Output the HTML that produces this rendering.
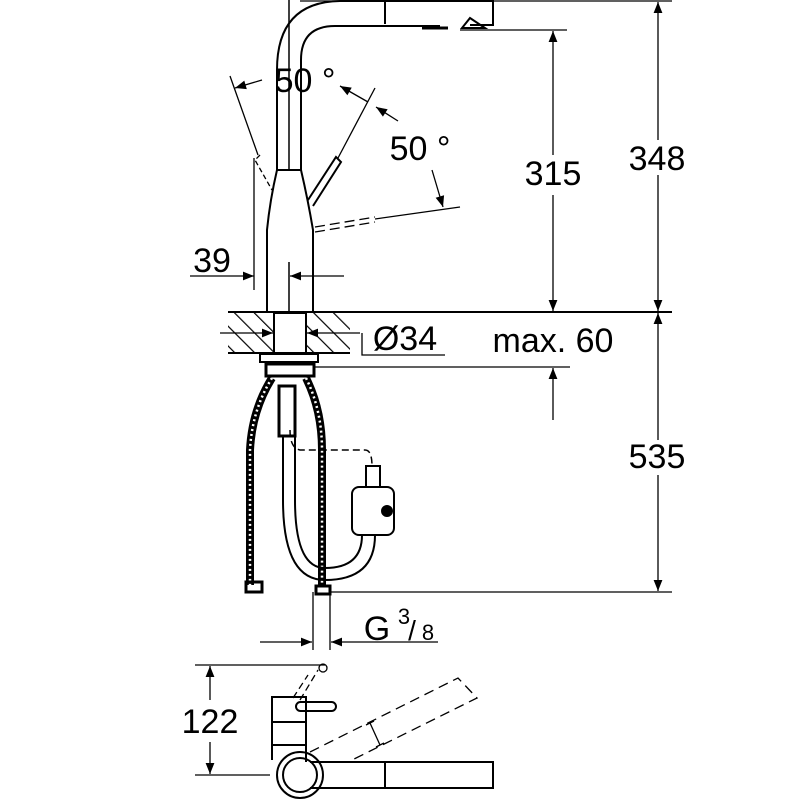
<!DOCTYPE html>
<html><head><style>html,body{margin:0;padding:0;background:#fff}svg{display:block}</style></head>
<body>
<svg width="800" height="800" viewBox="0 0 800 800" xmlns="http://www.w3.org/2000/svg" font-family="Liberation Sans, sans-serif">
<defs>
<marker id="a" viewBox="0 0 10 10" refX="10" refY="5" markerWidth="22" markerHeight="11" markerUnits="userSpaceOnUse" orient="auto-start-reverse"><path d="M0,1 L10,5 L0,9 z" fill="#000"/></marker>
<pattern id="h" width="14" height="14" patternUnits="userSpaceOnUse" patternTransform="rotate(-45)"><line x1="0" y1="0" x2="0" y2="14" stroke="#000" stroke-width="2.4"/></pattern>
</defs>
<g fill="none" stroke="#000" stroke-width="2">
<path d="M277,170 L277,70 Q277,2 340,1 L493,1 L493,25 L470,25"/>
<path d="M301,170 L301,60 Q301,26 335,26 L440,26"/>
<line x1="385" y1="1" x2="385" y2="24"/>
<path d="M462,28 L470,18 L485,28 Z"/>
<path d="M422,28 L448,28" stroke-width="3"/>
<line x1="289" y1="0" x2="289" y2="170" stroke-width="1.5"/>
<path d="M277,170 Q270,200 267,230 L267,312"/>
<path d="M301,170 Q308,200 313,230 L313,312"/>
<line x1="277" y1="170" x2="301" y2="170"/>
<line x1="289" y1="262" x2="289" y2="312" stroke-width="1.5"/>
<path d="M308,200 L336,157 L341,162 L313,206"/>
<line x1="338" y1="158" x2="375" y2="88" stroke-width="1.3"/>
<path d="M260,155 L255,160 L272,190" stroke-width="1.3" stroke-dasharray="5,3"/>
<line x1="258" y1="155" x2="230" y2="76" stroke-width="1.3"/>
<path d="M315,232 L375,222 M315,227 L375,217" stroke-width="1.3" stroke-dasharray="10,5"/>
<line x1="375" y1="219" x2="460" y2="207" stroke-width="1.3"/>
<line x1="254" y1="158" x2="254" y2="290" stroke-width="1.3"/>
</g>
<g stroke="#000" stroke-width="1.3" fill="none">
<line x1="262" y1="80" x2="235" y2="88" marker-end="url(#a)"/>
<line x1="340" y1="86" x2="368" y2="102" marker-start="url(#a)"/>
<line x1="376" y1="107" x2="398" y2="121" marker-start="url(#a)"/>
<line x1="432" y1="170" x2="443" y2="207" marker-end="url(#a)"/>
<line x1="190" y1="276" x2="254" y2="276" marker-end="url(#a)"/>
<line x1="344" y1="276" x2="290" y2="276" marker-end="url(#a)"/>
<rect x="228" y="313" width="122" height="40" fill="url(#h)" stroke="none"/>
<rect x="274" y="313" width="32" height="40" fill="#fff" stroke="#000" stroke-width="2"/>
<line x1="228" y1="312" x2="672" y2="312" stroke-width="2"/>
<line x1="228" y1="353" x2="350" y2="353" stroke-width="2"/>
<line x1="220" y1="333" x2="273" y2="333" marker-end="url(#a)"/>
<line x1="360" y1="333" x2="307" y2="333" marker-end="url(#a)"/>
<path d="M362,333 L362,355 L445,355"/>
<line x1="300" y1="1" x2="672" y2="1"/>
<line x1="460" y1="30" x2="567" y2="30"/>
<line x1="553" y1="155" x2="553" y2="31" marker-end="url(#a)"/>
<line x1="553" y1="195" x2="553" y2="311" marker-end="url(#a)"/>
<line x1="658" y1="140" x2="658" y2="2" marker-end="url(#a)"/>
<line x1="658" y1="175" x2="658" y2="311" marker-end="url(#a)"/>
<line x1="658" y1="440" x2="658" y2="313" marker-end="url(#a)"/>
<line x1="658" y1="475" x2="658" y2="591" marker-end="url(#a)"/>
<line x1="315" y1="367" x2="570" y2="367"/>
<line x1="553" y1="420" x2="553" y2="368" marker-end="url(#a)"/>
<line x1="330" y1="592" x2="672" y2="592"/>
</g>
<g stroke="#000" stroke-width="2" fill="none">
<rect x="260" y="354" width="58" height="8"/>
<rect x="266" y="364" width="48" height="12" stroke-width="3"/>
<path d="M272,378 Q252,410 250,450 L250,585" stroke-width="8"/>
<path d="M272,378 Q252,410 250,450 L250,585" stroke="#fff" stroke-width="2.5" stroke-dasharray="2,3"/>
<path d="M306,378 Q322,410 322,450 L322,585" stroke-width="8"/>
<path d="M306,378 Q322,410 322,450 L322,585" stroke="#fff" stroke-width="2.5" stroke-dasharray="2,3"/>
<rect x="246" y="582" width="16" height="10" stroke-width="3"/>
<rect x="316" y="586" width="14" height="8" stroke-width="3"/>
<rect x="279" y="386" width="16" height="50" stroke-width="3"/>
<path d="M283,436 L283,500 Q283,580 325,580 Q375,580 375,535"/>
<path d="M295,436 L295,500 Q295,568 325,568 Q362,568 362,535"/>
<rect x="352" y="487" width="42" height="48" rx="7"/>
<rect x="366" y="466" width="14" height="21"/>
<path d="M290,430 Q290,448 300,450 L365,450 Q372,450 372,466" stroke-dasharray="7,4" stroke-width="1.5"/>
<circle cx="387" cy="511" r="5" fill="#000"/>
<line x1="313" y1="592" x2="313" y2="650" stroke-width="1.3"/>
<line x1="330" y1="592" x2="330" y2="650" stroke-width="1.3"/>
</g>
<g stroke="#000" stroke-width="1.3" fill="none">
<line x1="260" y1="642" x2="312" y2="642" marker-end="url(#a)"/>
<line x1="438" y1="642" x2="331" y2="642" marker-end="url(#a)"/>
<line x1="195" y1="665" x2="325" y2="665"/>
<line x1="195" y1="775" x2="270" y2="775"/>
<line x1="210" y1="700" x2="210" y2="666" marker-end="url(#a)"/>
<line x1="210" y1="742" x2="210" y2="774" marker-end="url(#a)"/>
<path d="M300,700 L318,670 M293,698 L308,675" stroke-dasharray="7,4"/>
<circle cx="323" cy="668" r="4"/>
<path d="M310,752 L458,678 L477,698 L348,762" stroke-dasharray="10,6"/>
<line x1="370" y1="723" x2="380" y2="745"/>
<line x1="366" y1="725" x2="374" y2="721"/>
<line x1="376" y1="747" x2="384" y2="743"/>
</g>
<g stroke="#000" stroke-width="2" fill="none">
<path d="M272,727 L272,697 L306,697 L306,745 L272,745 Z"/>
<line x1="272" y1="722" x2="306" y2="722"/>
<rect x="296" y="702" width="40" height="9" rx="4.5"/>
<path d="M272,745 L272,760 M306,745 L306,762"/>
<circle cx="300" cy="775" r="23"/>
<circle cx="300" cy="775" r="17"/>
<path d="M310,762 L493,762 L493,788 L310,788"/>
<line x1="385" y1="762" x2="385" y2="788"/>
</g>
<g font-size="34" fill="#000" text-anchor="middle">
<text x="305" y="92">50 °</text>
<text x="420" y="160">50 °</text>
<text x="212" y="272">39</text>
<text x="405" y="350">Ø34</text>
<text x="553" y="352">max. 60</text>
<text x="553" y="185">315</text>
<text x="657" y="170">348</text>
<text x="657" y="468">535</text>
<text x="210" y="733">122</text>
<text x="377" y="640">G</text>
<text x="404" y="624" font-size="22">3</text>
<text x="412" y="640" font-size="28">/</text>
<text x="428" y="640" font-size="22">8</text>
</g>
</svg>
</body></html>
